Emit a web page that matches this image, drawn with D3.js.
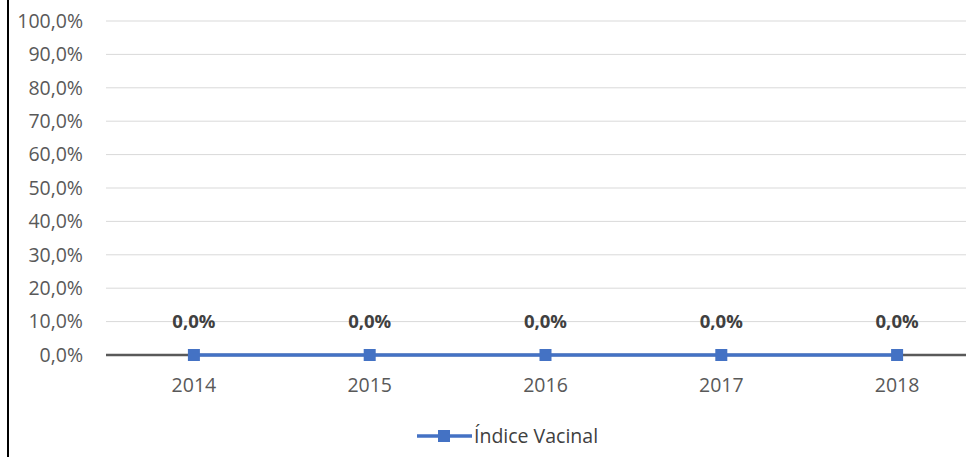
<!DOCTYPE html>
<html>
<head>
<meta charset="utf-8">
<script src="https://cdn.jsdelivr.net/npm/d3@7"></script>
<style>
  body { margin: 0; background: #fff; }
  svg { display: block; font-family: "Open Sans", sans-serif; }
</style>
</head>
<body>
<div id="chart-area"></div>
<script>
// dados do grafico
var years = ["2014", "2015", "2016", "2017", "2018"];
var indiceVacinal = [0, 0, 0, 0, 0];
var yTicks = [0, 0.1, 0.2, 0.3, 0.4, 0.5, 0.6, 0.7, 0.8, 0.9, 1.0];
var seriesName = "Índice Vacinal";

var width = 966, height = 457;
var blue = "#4472C4";
var font = "'Open Sans', sans-serif";

var fmt = function(d){ return d3.format(".1%")(d).replace(".", ","); };

var svg = d3.select("#chart-area")
    .append("svg")
    .attr("width", width)
    .attr("height", height);

// borda da esquerda
svg.append("line")
    .attr("x1", 8).attr("x2", 8)
    .attr("y1", 0).attr("y2", height)
    .attr("stroke", "#000")
    .attr("stroke-width", 2);

var x = d3.scaleBand()
    .domain(years)
    .range([106, 985]);

var y = d3.scaleLinear()
    .domain([0, 1])
    .range([355, 21]);

// linhas de grade
svg.append("g").selectAll("line")
    .data(yTicks.slice(1))
    .enter().append("line")
      .attr("x1", 106).attr("x2", width)
      .attr("y1", function(d){ return y(d); })
      .attr("y2", function(d){ return y(d); })
      .attr("stroke", "#d9d9d9")
      .attr("stroke-width", 1);

// eixo y (só os textos)
var yAxis = d3.axisLeft(y).tickValues(yTicks).tickFormat(fmt).tickSize(0).tickPadding(0);
var yAxisGroup = svg.append("g")
    .attr("transform", "translate(83,0)")
    .call(yAxis);
yAxisGroup.attr("font-family", font);
yAxisGroup.select(".domain").remove();
yAxisGroup.selectAll("text")
    .attr("fill", "#595959")
    .attr("font-size", "19.5px");

// eixo x
var xAxis = d3.axisBottom(x).tickSize(0).tickPadding(0);
var xAxisGroup = svg.append("g")
    .call(xAxis);
xAxisGroup.attr("font-family", font);
xAxisGroup.select(".domain").remove();
xAxisGroup.selectAll("text")
    .attr("fill", "#595959")
    .attr("font-size", "19.5px")
    .attr("dy", null)
    .attr("y", 392);

svg.append("line")
    .attr("x1", 106).attr("x2", width)
    .attr("y1", y(0)).attr("y2", y(0))
    .attr("stroke", "#595959")
    .attr("stroke-width", 2.5);

// linha da serie
var cx = function(d, i){ return x(years[i]) + x.bandwidth() / 2; };
var line = d3.line()
    .x(cx)
    .y(function(d){ return y(d); });

svg.append("path")
    .datum(indiceVacinal)
    .attr("fill", "none")
    .attr("stroke", blue)
    .attr("stroke-width", 3.5)
    .attr("d", line);

svg.append("g").selectAll("rect")
    .data(indiceVacinal)
    .enter().append("rect")
      .attr("x", function(d, i){ return cx(d, i) - 6; })
      .attr("y", function(d){ return y(d) - 6; })
      .attr("width", 12)
      .attr("height", 12)
      .attr("fill", blue);

// rótulos de dados
svg.append("g").selectAll("text")
    .data(indiceVacinal)
    .enter().append("text")
      .attr("x", cx)
      .attr("y", function(d){ return y(d) - 27; })
      .attr("text-anchor", "middle")
      .attr("font-size", "18.5px")
      .attr("font-weight", "bold")
      .attr("fill", "#404040")
      .text(fmt);

// legenda
var lg = svg.append("g").attr("transform", "translate(417,436)");
lg.append("line")
    .attr("x1", 0).attr("x2", 55)
    .attr("y1", 0).attr("y2", 0)
    .attr("stroke", blue)
    .attr("stroke-width", 3.5);
lg.append("rect")
    .attr("x", 21).attr("y", -6)
    .attr("width", 12).attr("height", 12)
    .attr("fill", blue);
lg.append("text")
    .attr("x", 57)
    .attr("y", 7)
    .attr("font-size", "19.5px")
    .attr("fill", "#404040")
    .text(seriesName);
</script>
</body>
</html>
